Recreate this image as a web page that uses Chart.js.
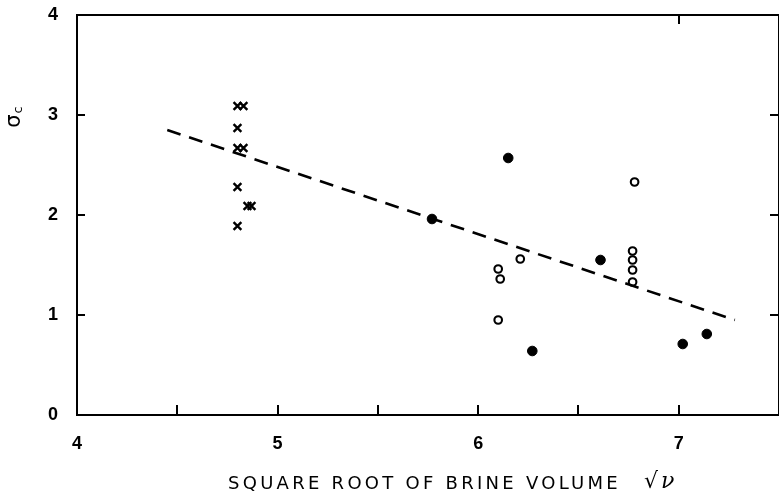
<!DOCTYPE html>
<html>
<head>
<meta charset="utf-8">
<script src="https://cdn.jsdelivr.net/npm/chart.js@4/dist/chart.umd.min.js"></script>
<style>
    body { margin: 0; background: #fff; }
    #wrap { width: 779px; height: 501px; position: relative; }
</style>
</head>
<body>
<div id="wrap"><canvas id="chart"></canvas></div>
<script>
/* data */
let crossX = [4.80, 4.83, 4.80, 4.80, 4.83, 4.80, 4.85, 4.87, 4.80];
let crossY = [3.09, 3.09, 2.87, 2.67, 2.67, 2.28, 2.09, 2.09, 1.89];

let openX = [6.78, 6.21, 6.10, 6.11, 6.10, 6.77, 6.77, 6.77, 6.77];
let openY = [2.33, 1.56, 1.46, 1.36, 0.95, 1.64, 1.55, 1.45, 1.33];

let filledX = [6.15, 5.77, 6.61, 6.27, 7.02, 7.14];
let filledY = [2.57, 1.96, 1.55, 0.64, 0.71, 0.81];

let fitX = [4.45, 7.28];
let fitY = [2.85, 0.95];

let xTitle = "SQUARE ROOT OF BRINE VOLUME";
let xUnit = "\u221A\u03BD";
let yTitle = "\u03C3";
let ySub = "c";

const pts = (xs, ys) => xs.map((x, i) => ({ x: x, y: ys[i] }));

/* draw axis titles where the figure has them */
const titles = {
    id: "titles",
    afterDraw(chart) {
        let ctx = chart.ctx;
        ctx.save();
        ctx.fillStyle = "#000";
        ctx.textBaseline = "middle";
        ctx.font = "18px 'DejaVu Sans'";
        ctx.letterSpacing = "0px";
        let w = ctx.measureText(xTitle).width;
        ctx.letterSpacing = ((393 - w) / xTitle.length) + "px";
        ctx.textAlign = "left";
        ctx.fillText(xTitle, 228, 484);
        ctx.letterSpacing = "3px";
        ctx.font = "italic 22px 'DejaVu Serif'";
        ctx.fillText(xUnit, 644, 482);

        ctx.translate(15, 118);
        ctx.rotate(-Math.PI / 2);
        ctx.letterSpacing = "0px";
        ctx.textAlign = "center";
        ctx.font = "21px 'DejaVu Sans'";
        ctx.fillText(yTitle, -3, 0);
        ctx.font = "13px 'DejaVu Sans'";
        ctx.fillText(ySub, 8, 4);
        ctx.restore();
    }
};

const ink = "#000";
const tickFont = { family: "'Liberation Sans'", size: 18, weight: "bold" };

new Chart(document.getElementById("chart"), {
    type: "scatter",
    data: {
        datasets: [
            {
                type: "line",
                data: pts(fitX, fitY),
                borderColor: ink,
                borderWidth: 2.6,
                borderDash: [14, 9],
                pointRadius: 0,
                fill: false
            },
            {
                data: pts(crossX, crossY),
                pointStyle: "crossRot",
                pointRadius: 5.5,
                borderColor: ink,
                borderWidth: 2.4
            },
            {
                data: pts(openX, openY),
                pointStyle: "circle",
                pointRadius: 3.8,
                borderColor: ink,
                backgroundColor: "#fff",
                borderWidth: 2.1
            },
            {
                data: pts(filledX, filledY),
                pointStyle: "circle",
                pointRadius: 4.8,
                borderColor: ink,
                backgroundColor: ink,
                borderWidth: 1
            }
        ]
    },
    options: {
        responsive: true,
        maintainAspectRatio: false,
        animation: false,
        layout: { autoPadding: false, padding: { top: 15, left: 0, right: 0, bottom: 0 } },
        plugins: {
            legend: { display: false },
            tooltip: { enabled: false }
        },
        scales: {
            x: {
                type: "linear",
                position: "bottom",
                min: 4,
                max: 7.5,
                ticks: {
                    stepSize: 0.5,
                    color: ink,
                    font: tickFont,
                    padding: 28,
                    maxRotation: 0,
                    callback: v => Number.isInteger(v) ? v : ""
                },
                grid: { drawOnChartArea: false, tickLength: -10, color: ink, lineWidth: 2 },
                border: { color: ink, width: 2 },
                afterFit: s => { s.height = 86; s.paddingLeft = 0; s.paddingRight = 0; }
            },
            xTop: {
                type: "linear",
                position: "top",
                min: 4,
                max: 7.5,
                ticks: { display: false, stepSize: 1 },
                grid: {
                    drawOnChartArea: false,
                    tickLength: -9,
                    lineWidth: 2,
                    color: c => c.tick && c.tick.value === 7 ? ink : "rgba(0,0,0,0)"
                },
                border: { color: ink, width: 2 },
                afterFit: s => { s.height = 0; s.paddingLeft = 0; s.paddingRight = 0; }
            },
            y: {
                type: "linear",
                position: "left",
                min: 0,
                max: 4,
                ticks: { stepSize: 1, color: ink, font: tickFont, padding: 27 },
                grid: { drawOnChartArea: false, tickLength: -8, color: ink, lineWidth: 2 },
                border: { color: ink, width: 2 },
                afterFit: s => { s.width = 77; s.paddingTop = 0; s.paddingBottom = 0; }
            },
            yRight: {
                type: "linear",
                position: "right",
                min: 0,
                max: 4,
                ticks: { display: false, stepSize: 1 },
                grid: {
                    drawOnChartArea: false,
                    tickLength: -9,
                    lineWidth: 2,
                    color: c => c.tick && c.tick.value > 0 && c.tick.value < 4 ? ink : "rgba(0,0,0,0)"
                },
                border: { color: ink, width: 2 },
                afterFit: s => { s.width = 0; s.paddingTop = 0; s.paddingBottom = 0; }
            }
        }
    },
    plugins: [titles]
});
</script>
</body>
</html>
